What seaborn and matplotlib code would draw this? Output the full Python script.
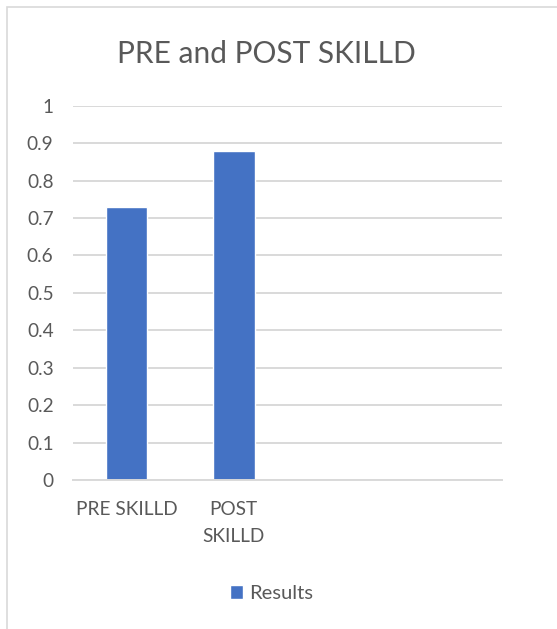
import numpy as np
import pandas as pd
import seaborn as sns
import matplotlib.pyplot as plt
from matplotlib.patches import Rectangle

# chart data
categories = ["PRE SKILLD", "POST\nSKILLD"]
values = [0.73, 0.88]
series_name = "Results"
y_ticks = [0, 0.1, 0.2, 0.3, 0.4, 0.5, 0.6, 0.7, 0.8, 0.9, 1]
y_tick_labels = ["0", "0.1", "0.2", "0.3", "0.4", "0.5", "0.6", "0.7", "0.8", "0.9", "1"]
n_slots = 4  # excel kept two empty category slots on the right

df = pd.DataFrame({"category": categories, "value": values, "series": series_name})

sns.set_style("white")
plt.rcParams['font.family'] = ['Lato', 'DejaVu Sans']
text_color = '#595959'
grid_color = '#d9d9d9'
bar_color = '#4472C4'

fig = plt.figure(figsize=(5.57, 6.29), dpi=100)
ax = fig.add_axes([0.131, 0.237, 0.770, 0.595])

sns.barplot(data=df, x="category", y="value", hue="series", palette=[bar_color],
            dodge=False, width=0.39, saturation=1, ax=ax, legend=True)

ax.set_xlim(-0.5, n_slots - 0.5)
ax.set_ylim(0, 1)
ax.set_yticks(y_ticks)
ax.set_yticklabels(y_tick_labels)
ax.set_xlabel("")
ax.set_ylabel("")
ax.yaxis.grid(True, color=grid_color, linewidth=1.4)
ax.set_axisbelow(True)
for side in ["top", "right", "left"]:
    ax.spines[side].set_visible(False)
ax.spines["bottom"].set_color(grid_color)
ax.spines["bottom"].set_linewidth(1.4)
ax.tick_params(axis='both', length=0, labelsize=13.7, colors=text_color)
ax.tick_params(axis='y', pad=14)
ax.tick_params(axis='x', pad=15)
for lbl in ax.get_xticklabels():
    lbl.set_linespacing(1.75)
    lbl.set_verticalalignment('top')

# legend at the bottom
ax.get_legend().remove()
handles, labels = ax.get_legend_handles_labels()
fig.legend(handles, labels, loc='center', bbox_to_anchor=(0.487, 0.056), frameon=False,
           fontsize=14.5, labelcolor=text_color, handlelength=0.65, handleheight=0.65,
           handletextpad=0.3)

fig.text(0.478, 1 - 63 / 629, "PRE and POST SKILLD", ha='center', va='baseline',
         fontsize=21.5, color=text_color)

# chart area border (cut off at right and bottom)
fig.patches.append(Rectangle((7 / 557, -0.1), 1.2, 1 - 7 / 629 + 0.1, transform=fig.transFigure,
                             fill=False, edgecolor=grid_color, linewidth=1.2))

fig.savefig("out.png", dpi=100)
